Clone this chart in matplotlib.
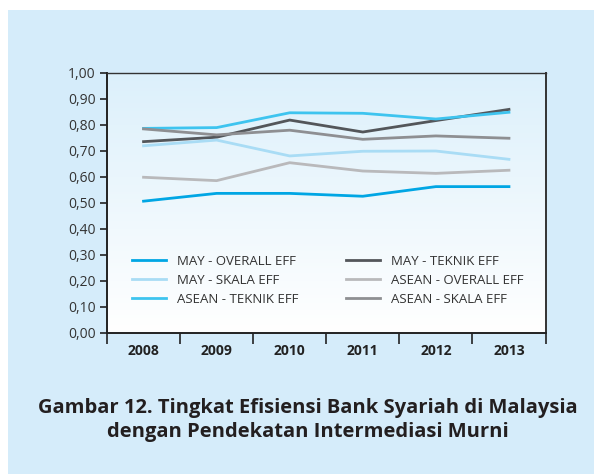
import numpy as np
import matplotlib.pyplot as plt
from matplotlib.colors import LinearSegmentedColormap
from matplotlib.ticker import FuncFormatter

# Data
years = ['2008', '2009', '2010', '2011', '2012', '2013']
may_overall = [0.507, 0.537, 0.537, 0.526, 0.563, 0.563]
may_teknik = [0.736, 0.753, 0.819, 0.773, 0.817, 0.860]
may_skala = [0.720, 0.742, 0.681, 0.699, 0.700, 0.668]
asean_overall = [0.599, 0.586, 0.655, 0.623, 0.614, 0.626]
asean_teknik = [0.787, 0.790, 0.847, 0.845, 0.823, 0.849]
asean_skala = [0.785, 0.762, 0.780, 0.745, 0.758, 0.749]

plt.rcParams['font.family'] = ['Open Sans', 'DejaVu Sans']

fig = plt.figure(figsize=(5.94, 4.74), dpi=100)
fig.patch.set_facecolor('white')

# light blue panel behind everything
bg = fig.add_axes([8 / 594, 0, 1 - 8 / 594, (474 - 10) / 474], zorder=-1)
bg.set_facecolor('#d5ecfa')
bg.set_xticks([])
bg.set_yticks([])
for s in bg.spines.values():
    s.set_visible(False)

ax = fig.add_axes([107 / 594, (474 - 333) / 474, (545.5 - 107) / 594, (333 - 73) / 474], zorder=1)

# gradient background in plot area
grad = np.linspace(0, 1, 256).reshape(-1, 1)
ax.imshow(grad, extent=[0, 6, 0, 1], aspect='auto', origin='lower',
          cmap=LinearSegmentedColormap.from_list('g', ['#ffffff', '#dcf0fb']), zorder=0)

x = np.arange(len(years)) + 0.5
lw = 2.0
l1, = ax.plot(x, may_overall, color='#00a6e4', lw=lw, label='MAY - OVERALL EFF')
l2, = ax.plot(x, may_teknik, color='#53565a', lw=lw, label='MAY - TEKNIK EFF')
l3, = ax.plot(x, may_skala, color='#a9dcf5', lw=lw, label='MAY - SKALA EFF')
l4, = ax.plot(x, asean_overall, color='#b9b9bb', lw=lw, label='ASEAN - OVERALL EFF')
l5, = ax.plot(x, asean_teknik, color='#3ec4ef', lw=lw, label='ASEAN - TEKNIK EFF')
l6, = ax.plot(x, asean_skala, color='#8e8f92', lw=lw, label='ASEAN - SKALA EFF')

ax.set_xlim(0, 6)
ax.set_ylim(0, 1)
ax.set_yticks(np.arange(0, 1.01, 0.1))
ax.yaxis.set_major_formatter(FuncFormatter(lambda v, p: f'{v:.2f}'.replace('.', ',')))
ax.set_xticks(np.arange(0, 7))
ax.set_xticklabels([])
ax.set_xticks(x, minor=True)
ax.set_xticklabels(years, minor=True, fontweight='bold', fontsize=10, color='#222222')
ax.tick_params(axis='x', which='major', direction='out', length=8, width=1.2, color='#222222')
ax.tick_params(axis='x', which='minor', length=0, pad=8)
ax.tick_params(axis='y', direction='out', length=5, width=1.2, color='#222222',
               labelsize=10, labelcolor='#333333', pad=3)

for s in ['left', 'bottom']:
    ax.spines[s].set_linewidth(1.4)
    ax.spines[s].set_color('#222222')
ax.spines['right'].set_linewidth(1.4)
ax.spines['right'].set_color('#333333')
ax.spines['top'].set_linewidth(1.0)
ax.spines['top'].set_color('#333333')

# legend filled row by row like the original
handles = [l1, l3, l5, l2, l4, l6]
ax.legend(handles, [h.get_label() for h in handles], ncol=2, frameon=False,
          loc='lower left', bbox_to_anchor=(0.03, 0.06),
          fontsize=9.5, handlelength=2.6, columnspacing=3.6, labelspacing=0.45,
          labelcolor='#333333')

fig.text(308 / 594, 1 - 408 / 474, 'Gambar 12. Tingkat Efisiensi Bank Syariah di Malaysia',
         ha='center', va='center', fontsize=14.5, fontweight='bold', color='#231f20')
fig.text(308 / 594, 1 - 432 / 474, 'dengan Pendekatan Intermediasi Murni',
         ha='center', va='center', fontsize=14.5, fontweight='bold', color='#231f20')

fig.savefig('out.png', dpi=100)
